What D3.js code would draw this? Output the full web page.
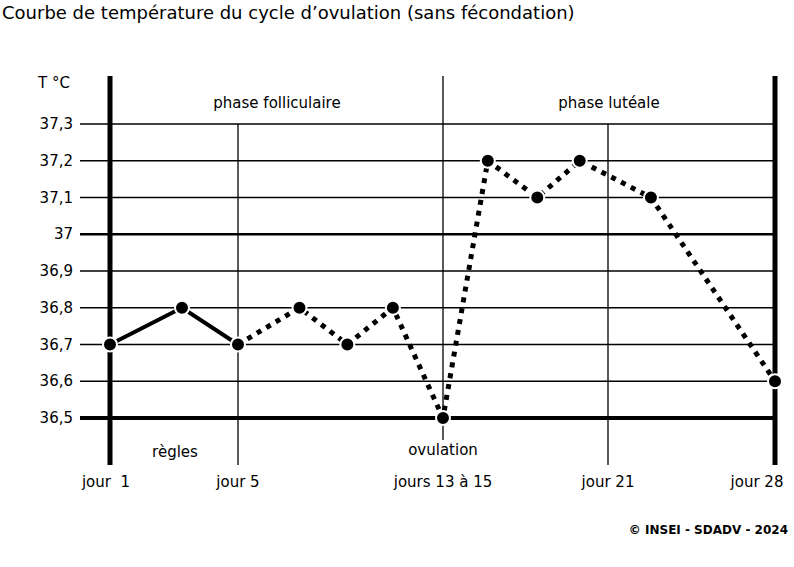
<!DOCTYPE html><html><head><meta charset="utf-8"><script src="https://cdn.jsdelivr.net/npm/d3@7"></script>
<style>body{margin:0;background:#fff}text{font-family:"DejaVu Sans",sans-serif}</style></head><body>
<svg id="c" width="794" height="567"></svg>
<script>
const days=[1,3.25,5,7.7,9.8,11.8,14,15.9,18,19.8,22.8,28];
const temps=[36.7,36.8,36.7,36.8,36.7,36.8,36.5,37.2,37.1,37.2,37.1,36.6];
const yTicks=[36.5,36.6,36.7,36.8,36.9,37,37.1,37.2,37.3];
const yLabels=["36,5","36,6","36,7","36,8","36,9","37","37,1","37,2","37,3"];
const xTickDays=[1,5,14,21,28];
const xTickLabels=["jour\u00A0\u00A01","jour 5","jours 13 à 15","jour 21","jour 28"];
const svg=d3.select("#c");
const x=d3.scaleLinear().domain([1,5,14,21,28]).range([110,238,443,608,775]);
const y=d3.scaleLinear().domain([36.5,37.3]).range([418,124]);
svg.append("text").attr("x",2).attr("y",19).attr("font-size",18).text("Courbe de température du cycle d’ovulation (sans fécondation)");
yTicks.forEach((t,i)=>{
 const thick=(t===36.5)?4:(t===37?2.5:1.3);
 svg.append("line").attr("x1",80).attr("x2",775).attr("y1",y(t)).attr("y2",y(t)).attr("stroke","#000").attr("stroke-width",thick);
 svg.append("text").attr("x",73).attr("y",y(t)+5).attr("text-anchor","end").attr("font-size",15).text(yLabels[i]);
});
svg.append("text").attr("x",38).attr("y",88).attr("font-size",15).text("T °C");
const vl=(d,y1,y2,w)=>svg.append("line").attr("x1",x(d)).attr("x2",x(d)).attr("y1",y1).attr("y2",y2).attr("stroke","#000").attr("stroke-width",w);
vl(1,76,465,5);vl(28,76,465,5);vl(5,124,465,1.3);vl(21,124,465,1.3);vl(14,76,440,1.3);
xTickDays.forEach((d,i)=>svg.append("text").attr("x",x(d)+(i==0?-4:(i==4?-18:0))).attr("y",487).attr("text-anchor","middle").attr("font-size",15).text(xTickLabels[i]));
svg.append("text").attr("x",277).attr("y",108).attr("text-anchor","middle").attr("font-size",15).text("phase folliculaire");
svg.append("text").attr("x",609).attr("y",108).attr("text-anchor","middle").attr("font-size",15).text("phase lutéale");
svg.append("text").attr("x",175).attr("y",457).attr("text-anchor","middle").attr("font-size",15).text("règles");
svg.append("text").attr("x",443).attr("y",455).attr("text-anchor","middle").attr("font-size",15).text("ovulation");
svg.append("text").attr("x",788).attr("y",534).attr("text-anchor","end").attr("font-size",12).attr("font-weight","bold").text("© INSEI - SDADV - 2024");
const pts=days.map((d,i)=>[x(d),y(temps[i])]);
const line=d3.line();
svg.append("path").attr("d",line(pts.slice(0,3))).attr("fill","none").attr("stroke","#000").attr("stroke-width",4);
svg.append("path").attr("d",line(pts.slice(2))).attr("fill","none").attr("stroke","#000").attr("stroke-width",5).attr("stroke-dasharray","5 6");
svg.selectAll("circle.p").data(pts).join("circle").attr("cx",d=>d[0]).attr("cy",d=>d[1]).attr("r",7).attr("fill","#000").attr("stroke","#fff").attr("stroke-width",2);
</script></body></html>
